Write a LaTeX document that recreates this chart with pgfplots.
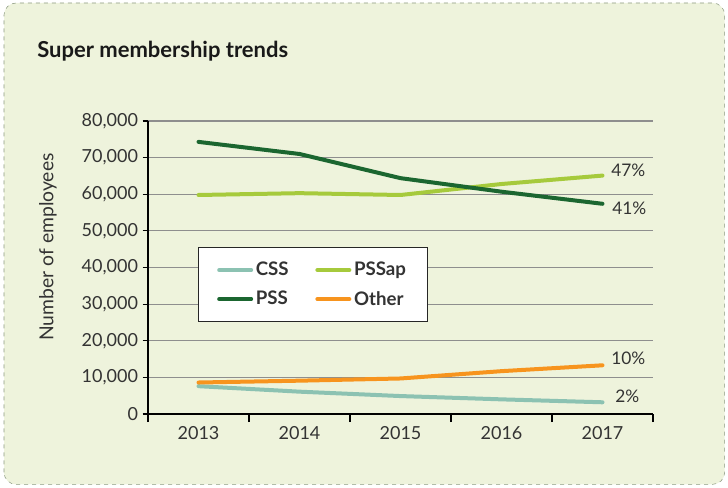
\documentclass[border=0pt]{standalone}
\usepackage{pgfplots}
\pgfplotsset{compat=1.18}
\usepackage{fontspec}
\setmainfont{Lato}

\definecolor{bgc}{HTML}{EEF3DC}
\definecolor{bordc}{HTML}{8C9A80}
\definecolor{gridc}{HTML}{8E8E8E}
\definecolor{txtc}{HTML}{333333}
\definecolor{cssc}{HTML}{8CC2B2}
\definecolor{pssapc}{HTML}{A6CA3C}
\definecolor{pssc}{HTML}{1B6630}
\definecolor{otherc}{HTML}{F7941E}

\begin{document}
\begin{tikzpicture}
  \path[use as bounding box] (0pt,0pt) rectangle (546pt,365.25pt);
  \draw[bordc, dashed, rounded corners=9pt, fill=bgc] (3pt,2pt) rectangle (543.5pt,363pt);
  \node[anchor=base west, inner sep=0pt, text=black!90,
        font=\fontsize{16.5}{20}\selectfont\bfseries] at (27.75pt,322.5pt) {Super membership trends};

  \begin{axis}[
      at={(111pt,54.75pt)}, anchor=south west,
      scale only axis,
      width=378.75pt, height=219.75pt,
      xmin=-0.5, xmax=4.5,
      ymin=0, ymax=80000,
      xtick={0,1,2,3,4},
      xticklabels={2013,2014,2015,2016,2017},
      minor xtick={-0.5,0.5,1.5,2.5,3.5,4.5},
      ytick={0,10000,...,80000},
      major x tick style={draw=none},
      minor x tick style={draw=black, line width=0.8pt},
      y tick style={draw=black, line width=0.8pt},
      major tick length=4pt,
      minor tick length=6pt,
      tick align=outside,
      tick pos=left,
      axis x line*=bottom,
      axis y line*=left,
      axis line style={-, black, line width=0.8pt},
      ymajorgrids,
      major grid style={gridc, line width=0.8pt},
      scaled y ticks=false,
      /pgf/number format/assume math mode=true,
      /pgf/number format/1000 sep={,},
      ticklabel style={font=\fontsize{13.5}{15}\selectfont, text=txtc},
      xticklabel style={yshift=-2pt},
      ylabel={Number of employees},
      every axis y label/.style={at={(axis description cs:-0.198,0.57)}, rotate=90, anchor=center,
                                 font=\fontsize{14.5}{16}\selectfont, text=txtc},
      legend columns=2,
      legend style={at={(0.099,0.570)}, anchor=north west, draw=black!85, fill=white,
                    line width=0.8pt,
                    font=\fontsize{14}{16}\selectfont\bfseries, text=txtc,
                    inner xsep=14pt, inner ysep=9pt, row sep=6pt,
                    /tikz/every even column/.append style={column sep=18pt}},
      legend image code/.code={\draw[#1, line cap=round] (0pt,0pt) -- (24pt,0pt);},
      legend cell align=left,
      clip=false,
    ]
    \addplot[cssc, line width=3pt, line cap=round] coordinates {
      (0,7600) (1,6100) (2,4900) (3,4000) (4,3200)
    };
    \addplot[pssapc, line width=3pt, line cap=round] coordinates {
      (0,59800) (1,60300) (2,59800) (3,62800) (4,65100)
    };
    \addplot[pssc, line width=3pt, line cap=round] coordinates {
      (0,74300) (1,71000) (2,64400) (3,60700) (4,57400)
    };
    \addplot[otherc, line width=3pt, line cap=round] coordinates {
      (0,8600) (1,9100) (2,9700) (3,11700) (4,13300)
    };
    \legend{CSS, PSSap, PSS, Other}

    \node[anchor=west, text=txtc, font=\fontsize{13}{15}\selectfont] at (axis cs:4.04,66600) {47\%};
    \node[anchor=west, text=txtc, font=\fontsize{13}{15}\selectfont] at (axis cs:4.05,56300) {41\%};
    \node[anchor=west, text=txtc, font=\fontsize{13}{15}\selectfont] at (axis cs:4.04,15300) {10\%};
    \node[anchor=west, text=txtc, font=\fontsize{13}{15}\selectfont] at (axis cs:4.08,4700) {2\%};
  \end{axis}
\end{tikzpicture}
\end{document}
